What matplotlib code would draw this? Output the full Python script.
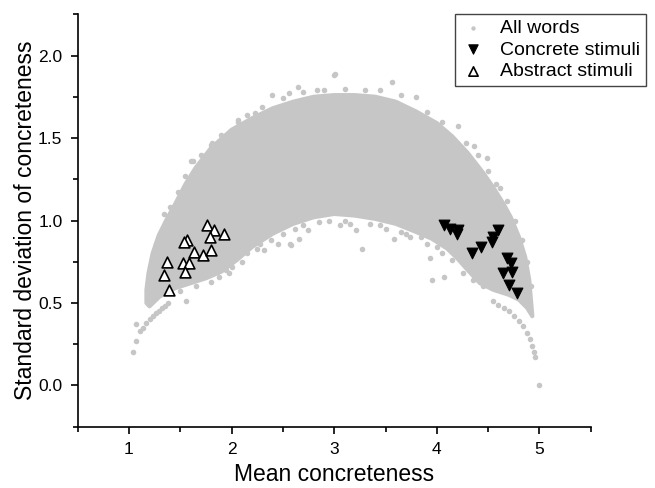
import matplotlib
matplotlib.use("Agg")
import matplotlib.pyplot as plt
from matplotlib.ticker import MultipleLocator

plt.rcParams['font.family'] = ['Liberation Sans', 'DejaVu Sans']

# ---- Data ----
# Dense region of "All words": outline (upper edge left->right, then lower edge right->left)
cloud_upper_x = [1.17, 1.17, 1.19, 1.23, 1.29, 1.37, 1.45, 1.55, 1.65, 1.80, 2.00, 2.20, 2.40,
                 2.60, 2.80, 3.00, 3.20, 3.40, 3.60, 3.80, 4.00, 4.15, 4.30, 4.45, 4.55,
                 4.65, 4.72, 4.80, 4.86, 4.90, 4.93]
cloud_upper_y = [0.50, 0.58, 0.68, 0.80, 0.91, 1.01, 1.10, 1.22, 1.32, 1.44, 1.55, 1.62, 1.68,
                 1.72, 1.75, 1.76, 1.76, 1.75, 1.72, 1.66, 1.59, 1.51, 1.41, 1.29, 1.20,
                 1.10, 1.02, 0.90, 0.78, 0.64, 0.42]
cloud_lower_x = [4.93, 4.88, 4.80, 4.70, 4.55, 4.42, 4.30, 4.20, 4.10, 3.95, 3.80, 3.60,
                 3.40, 3.20, 3.00, 2.80, 2.60, 2.40, 2.20, 2.05, 1.90, 1.75, 1.60,
                 1.45, 1.30, 1.20, 1.17]
cloud_lower_y = [0.42, 0.47, 0.52, 0.55, 0.58, 0.62, 0.70, 0.77, 0.83, 0.89, 0.93, 0.98,
                 1.01, 1.03, 1.04, 1.02, 0.98, 0.92, 0.84, 0.76, 0.69, 0.65, 0.62,
                 0.59, 0.54, 0.48, 0.50]

# Individual "All words" points visible at the fringe of the dense region
words_x = [1.04, 1.07, 1.07, 1.11, 1.14, 1.17, 1.20, 1.23, 1.26, 1.29, 1.32, 1.35, 1.38,
           1.56, 1.26, 1.34, 1.55, 1.60, 1.62, 1.72, 1.80, 1.81, 2.06, 2.06, 2.23, 2.39,
           2.56, 2.65, 2.83, 3.00, 3.01, 3.56, 3.80, 4.21, 4.36, 4.49, 4.50, 4.62,
           1.97, 2.25, 2.32, 2.45, 2.57, 2.58, 2.66, 2.74, 3.06, 3.21, 3.27, 3.58, 3.74,
           3.93, 3.95, 4.07,
           4.55, 4.60, 4.65, 4.70, 4.75, 4.80, 4.84, 4.88, 4.91, 4.93, 4.95, 4.96, 5.00,
           1.40, 1.48, 1.70, 1.90, 2.15, 2.30, 2.50, 2.70, 2.90, 3.10, 3.30, 3.45, 3.65,
           3.90, 4.05, 4.28, 4.40, 4.58, 4.68, 4.76, 4.83, 4.88, 4.92,
           2.10, 2.15, 2.28, 2.38, 2.50, 2.62, 2.70, 2.85, 2.95, 3.10, 3.15, 3.35, 3.45,
           3.50, 3.65, 3.70, 3.85, 3.90, 4.00, 4.05, 4.15, 4.25, 4.35, 4.45,
           1.50, 1.65, 1.80, 1.88, 1.95, 2.00]
words_y = [0.20, 0.27, 0.37, 0.33, 0.35, 0.38, 0.40, 0.42, 0.44, 0.45, 0.47, 0.48, 0.50,
           0.51, 0.86, 1.04, 1.27, 1.36, 1.36, 1.39, 1.46, 1.47, 1.60, 1.61, 1.65, 1.76,
           1.77, 1.81, 1.79, 1.88, 1.89, 1.84, 1.75, 1.57, 1.45, 1.38, 1.30, 1.20,
           0.68, 0.83, 0.82, 0.86, 0.86, 0.85, 0.89, 0.94, 0.97, 0.94, 0.83, 0.89, 0.90,
           0.77, 0.64, 0.66,
           0.51, 0.49, 0.47, 0.45, 0.42, 0.39, 0.36, 0.32, 0.28, 0.24, 0.20, 0.17, 0.00,
           1.08, 1.17, 1.40, 1.52, 1.64, 1.69, 1.74, 1.78, 1.79, 1.80, 1.79, 1.79, 1.76,
           1.66, 1.60, 1.47, 1.40, 1.22, 1.12, 1.00, 0.88, 0.75, 0.60,
           0.75, 0.80, 0.86, 0.88, 0.92, 0.95, 0.97, 0.99, 1.00, 1.00, 0.98, 0.98, 0.97,
           0.95, 0.93, 0.92, 0.90, 0.86, 0.84, 0.80, 0.76, 0.68, 0.64, 0.60,
           0.57, 0.60, 0.63, 0.66, 0.70, 0.72]

# Concrete stimuli
concrete_x = [4.07, 4.13, 4.21, 4.20, 4.60, 4.55, 4.54, 4.43, 4.34, 4.68, 4.72, 4.73,
              4.64, 4.70, 4.78]
concrete_y = [0.97, 0.95, 0.94, 0.92, 0.94, 0.90, 0.87, 0.84, 0.80, 0.77, 0.74, 0.69,
              0.68, 0.61, 0.56]

# Abstract stimuli
abstract_x = [1.76, 1.83, 1.93, 1.79, 1.57, 1.54, 1.63, 1.72, 1.80, 1.37, 1.53, 1.58,
              1.55, 1.34, 1.39]
abstract_y = [0.97, 0.94, 0.92, 0.90, 0.88, 0.87, 0.81, 0.79, 0.82, 0.75, 0.74, 0.74,
              0.69, 0.67, 0.58]

x_ticks = [1, 2, 3, 4, 5]
y_ticks = [0.0, 0.5, 1.0, 1.5, 2.0]

GRAY = '#c6c6c6'

fig = plt.figure(figsize=(6.55, 4.88), dpi=100)
ax = fig.add_axes([0.1186, 0.1256, 0.7834, 0.8451])

ax.fill(cloud_upper_x + cloud_lower_x, cloud_upper_y + cloud_lower_y,
        facecolor=GRAY, edgecolor=GRAY, linewidth=3, joinstyle='round', zorder=1)
ax.scatter(words_x, words_y, s=16, color=GRAY, linewidths=0, zorder=2, label='All words')
ax.scatter(concrete_x, concrete_y, marker='v', s=60, color='black', linewidths=0.8,
           edgecolors='black', zorder=3, label='Concrete stimuli')
ax.scatter(abstract_x, abstract_y, marker='^', s=60, facecolors='white', edgecolors='black',
           linewidths=1.2, zorder=4, label='Abstract stimuli')

ax.set_xlim(0.5, 5.5)
ax.set_ylim(-0.25, 2.25)
ax.set_xticks(x_ticks)
ax.set_yticks(y_ticks)
ax.set_yticklabels([f"{v:.1f}" for v in y_ticks])
ax.xaxis.set_minor_locator(MultipleLocator(0.5))
ax.yaxis.set_minor_locator(MultipleLocator(0.25))

for s in ['top', 'right']:
    ax.spines[s].set_visible(False)
for s in ['left', 'bottom']:
    ax.spines[s].set_linewidth(1.2)

ax.tick_params(which='major', direction='out', length=5, width=1.2, labelsize=12.5, pad=6)
ax.tick_params(which='minor', direction='out', length=3.5, width=1.2)

ax.set_xlabel('Mean concreteness', fontsize=16.5, labelpad=4)
ax.set_ylabel('Standard deviation of concreteness', fontsize=16.5, labelpad=1)

leg = ax.legend(loc='upper right', bbox_to_anchor=(646/655, 1 - 14/488),
                bbox_transform=fig.transFigure, borderaxespad=0, fontsize=14,
                frameon=True, fancybox=False, edgecolor='#444444', framealpha=1,
                handletextpad=0.8, labelspacing=0.18, borderpad=0.3, handlelength=1.2,
                scatterpoints=1)
leg.get_frame().set_linewidth(1.0)
leg.legend_handles[0].set_sizes([10])
leg.legend_handles[1].set_sizes([45])
leg.legend_handles[2].set_sizes([45])

fig.savefig('out.png', dpi=100)
